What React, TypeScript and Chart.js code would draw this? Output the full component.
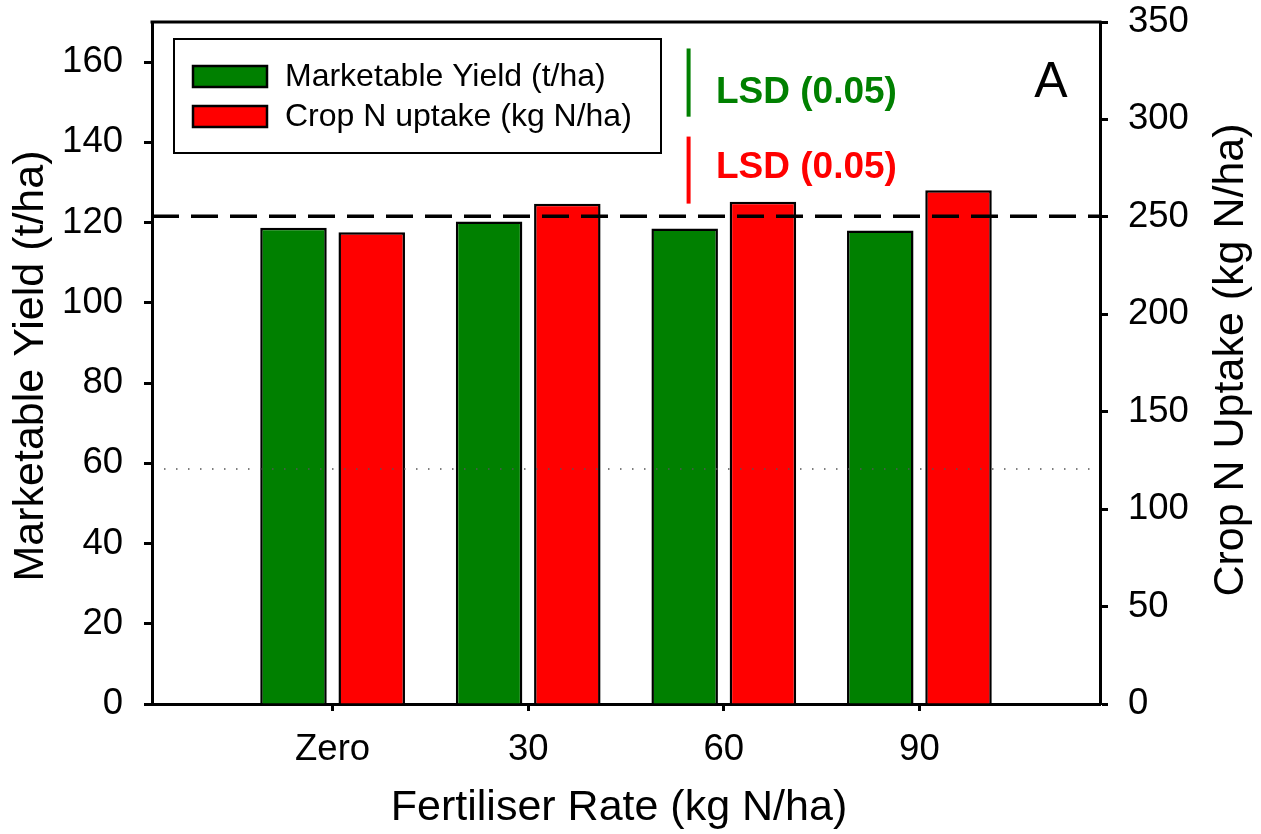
import React, { useEffect, useRef } from 'react';
import { Chart, registerables } from 'chart.js';

Chart.register(...registerables);

// ---- data ----
const categories = ['Zero', '30', '60', '90'];
const fertiliserRates = [0, 30, 60, 90];
const marketableYield = [118.7, 120.3, 118.5, 118.0];
const cropNUptake = [242.1, 256.7, 257.8, 263.6];
const yieldTicks = [0, 20, 40, 60, 80, 100, 120, 140, 160];
const uptakeTicks = [0, 50, 100, 150, 200, 250, 300, 350];
const seriesLabels = ['Marketable Yield (t/ha)', 'Crop N uptake (kg N/ha)'];
const dashedRefYield = [121.6];
const dottedRefYield = [58.6];
const lsdYield = [17.0];
const lsdUptake = [34.4];
const lsdLabel = 'LSD (0.05)';
const panelLabel = 'A';

const FONT = "'Liberation Sans', Arial, sans-serif";
const GREEN = '#008000';
const RED = '#ff0000';

const overlayPlugin = {
  id: 'overlay',
  afterDatasetsDraw(chart: any) {
    const { ctx, chartArea: ca, scales } = chart;
    const y = scales.y;
    const y1 = scales.y1;
    const x = scales.x;
    ctx.save();
    // dotted reference line
    const yd = y.getPixelForValue(dottedRefYield[0]);
    ctx.beginPath();
    ctx.setLineDash([1.5, 10.5]);
    ctx.lineWidth = 1.5;
    ctx.strokeStyle = '#555';
    ctx.moveTo(ca.left + 12, yd);
    ctx.lineTo(ca.right - 3, yd);
    ctx.stroke();
    // dashed reference line
    const ydash = y.getPixelForValue(dashedRefYield[0]);
    ctx.beginPath();
    ctx.setLineDash([27, 12]);
    ctx.lineWidth = 3.5;
    ctx.strokeStyle = '#000';
    ctx.moveTo(ca.left, ydash);
    ctx.lineTo(ca.right, ydash);
    ctx.stroke();
    ctx.setLineDash([]);
    // top frame line
    ctx.beginPath();
    ctx.lineWidth = 3;
    ctx.moveTo(ca.left - 1.5, ca.top);
    ctx.lineTo(ca.right + 1.5, ca.top);
    ctx.stroke();

    // LSD bars
    const lx = x.getPixelForValue(54.6);
    const gTop = y.getPixelForValue(163.4);
    const gBot = y.getPixelForValue(163.4 - lsdYield[0]);
    ctx.lineWidth = 4;
    ctx.strokeStyle = GREEN;
    ctx.beginPath();
    ctx.moveTo(lx, gTop);
    ctx.lineTo(lx, gBot);
    ctx.stroke();
    const rTop = y1.getPixelForValue(291.2);
    const rBot = y1.getPixelForValue(291.2 - lsdUptake[0]);
    ctx.strokeStyle = RED;
    ctx.beginPath();
    ctx.moveTo(lx, rTop);
    ctx.lineTo(lx, rBot);
    ctx.stroke();

    ctx.font = `bold 37px ${FONT}`;
    ctx.textAlign = 'left';
    ctx.textBaseline = 'alphabetic';
    ctx.fillStyle = GREEN;
    ctx.fillText(lsdLabel, 716, 103);
    ctx.fillStyle = RED;
    ctx.fillText(lsdLabel, 716, 178);

    // panel label
    ctx.fillStyle = '#000';
    ctx.font = `50px ${FONT}`;
    ctx.textAlign = 'center';
    ctx.fillText(panelLabel, 1051, 97);

    // legend
    ctx.lineWidth = 2;
    ctx.strokeStyle = '#000';
    ctx.fillStyle = '#fff';
    ctx.fillRect(174, 39, 487, 114);
    ctx.strokeRect(174, 39, 487, 114);
    const colors = [GREEN, RED];
    const rowsY = [66, 106];
    ctx.font = `32px ${FONT}`;
    ctx.textAlign = 'left';
    ctx.textBaseline = 'middle';
    for (let i = 0; i < 2; i++) {
      ctx.fillStyle = colors[i];
      ctx.fillRect(193, rowsY[i], 74, 21);
      ctx.lineWidth = 2.5;
      ctx.strokeRect(193, rowsY[i], 74, 21);
      ctx.fillStyle = '#000';
      ctx.fillText(seriesLabels[i], 285, rowsY[i] + 11);
    }

    // axis titles
    ctx.font = `43px ${FONT}`;
    ctx.textAlign = 'center';
    ctx.textBaseline = 'alphabetic';
    ctx.fillText('Fertiliser Rate (kg N/ha)', 619, 820);
    ctx.save();
    ctx.translate(43, 366);
    ctx.rotate(-Math.PI / 2);
    ctx.fillText('Marketable Yield (t/ha)', 0, 0);
    ctx.restore();
    ctx.save();
    ctx.translate(1243, 360);
    ctx.rotate(-Math.PI / 2);
    ctx.fillText('Crop N Uptake (kg N/ha)', 0, 0);
    ctx.restore();
    ctx.restore();
  },
};

export default function App() {
  const ref = useRef<HTMLCanvasElement | null>(null);
  useEffect(() => {
    if (!ref.current) return;
    const tickFont = { family: FONT, size: 36.5 };
    const chart = new Chart(ref.current, {
      type: 'bar',
      data: {
        datasets: [
          {
            label: seriesLabels[0],
            data: fertiliserRates.map((r, i) => ({ x: r, y: marketableYield[i] })),
            backgroundColor: GREEN,
            borderColor: '#000',
            borderWidth: 2.5,
            yAxisID: 'y',
            categoryPercentage: 0.8,
            barPercentage: 0.85,
          },
          {
            label: seriesLabels[1],
            data: fertiliserRates.map((r, i) => ({ x: r, y: cropNUptake[i] })),
            backgroundColor: RED,
            borderColor: '#000',
            borderWidth: 2.5,
            yAxisID: 'y1',
            categoryPercentage: 0.8,
            barPercentage: 0.85,
          },
        ],
      },
      options: {
        responsive: false,
        animation: false,
        layout: { padding: { top: 22, left: 0, right: 0, bottom: 0 } },
        plugins: { legend: { display: false }, tooltip: { enabled: false }, title: { display: false } },
        scales: {
          x: {
            type: 'linear',
            offset: false,
            min: -27.7,
            max: 117.7,
            afterBuildTicks: (s: any) => {
              s.ticks = fertiliserRates.map((v) => ({ value: v }));
            },
            afterFit: (s: any) => {
              s.height = 130;
              s.paddingLeft = 0;
              s.paddingRight = 0;
            },
            ticks: {
              font: tickFont,
              color: '#000',
              padding: 17,
              maxRotation: 0,
              autoSkip: false,
              callback: (v: any) => {
                const i = fertiliserRates.indexOf(Number(v));
                return i >= 0 ? categories[i] : '';
              },
            },
            grid: { offset: false, drawOnChartArea: false, drawTicks: true, tickLength: 7, tickWidth: 3, tickColor: '#000' },
            border: { display: true, width: 3, color: '#000' },
          },
          y: {
            type: 'linear',
            position: 'left',
            min: 0,
            max: 170,
            afterBuildTicks: (s: any) => {
              s.ticks = yieldTicks.map((v) => ({ value: v }));
            },
            afterFit: (s: any) => {
              s.width = 152;
              s.paddingTop = 0;
              s.paddingBottom = 0;
            },
            ticks: { font: tickFont, color: '#000', padding: 21, autoSkip: false },
            grid: { drawOnChartArea: false, drawTicks: true, tickLength: 8, tickWidth: 3, tickColor: '#000' },
            border: { display: true, width: 3, color: '#000' },
          },
          y1: {
            type: 'linear',
            position: 'right',
            min: 0,
            max: 350,
            afterBuildTicks: (s: any) => {
              s.ticks = uptakeTicks.map((v) => ({ value: v }));
            },
            afterFit: (s: any) => {
              s.width = 161;
              s.paddingTop = 0;
              s.paddingBottom = 0;
            },
            ticks: { font: tickFont, color: '#000', padding: 20, autoSkip: false },
            grid: { drawOnChartArea: false, drawTicks: true, tickLength: 8, tickWidth: 3, tickColor: '#000' },
            border: { display: true, width: 3, color: '#000' },
          },
        },
      },
      plugins: [overlayPlugin],
    } as any);
    return () => chart.destroy();
  }, []);
  return (
    <div style={{ position: 'fixed', left: 0, top: 0, width: 1261, height: 834, background: '#fff' }}>
      <canvas ref={ref} width={1261} height={834} />
    </div>
  );
}
